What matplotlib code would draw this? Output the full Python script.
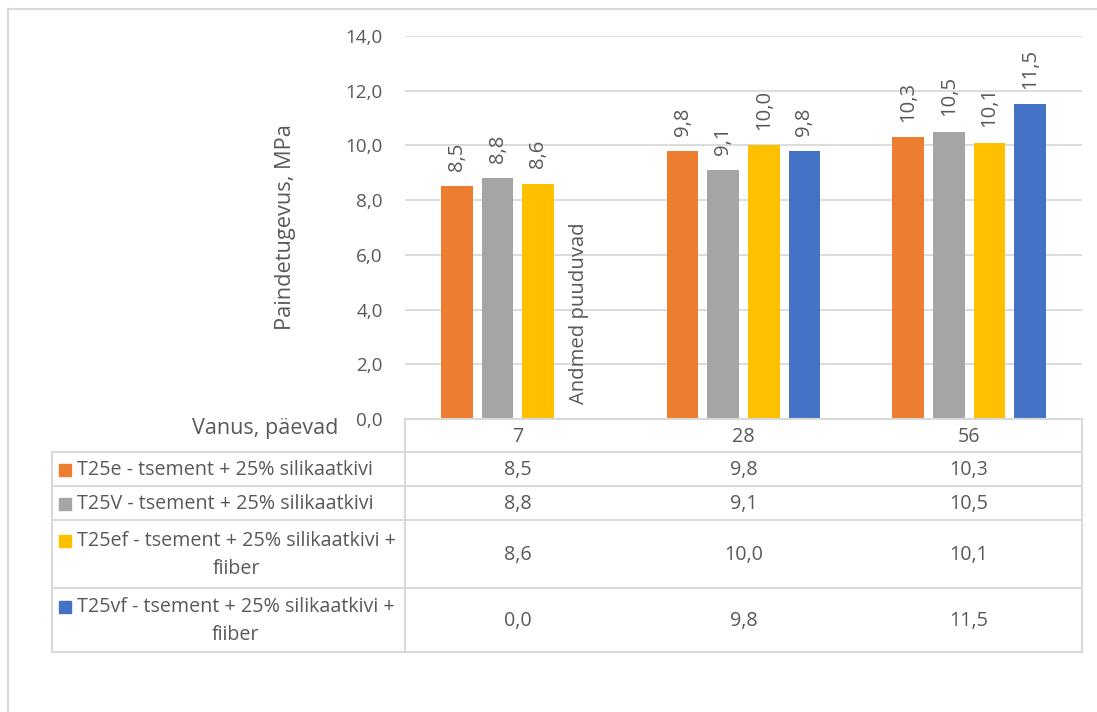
import textwrap
import numpy as np
import matplotlib
matplotlib.use("Agg")
import matplotlib.pyplot as plt
from matplotlib.lines import Line2D
from matplotlib.patches import Rectangle

# ---- data ----
ages = ["7", "28", "56"]
series_names = [
    "T25e - tsement + 25% silikaatkivi",
    "T25V - tsement + 25% silikaatkivi",
    "T25ef - tsement + 25% silikaatkivi + fiiber",
    "T25vf - tsement + 25% silikaatkivi + fiiber",
]
t25e = [8.5, 9.8, 10.3]
t25v = [8.8, 9.1, 10.5]
t25ef = [8.6, 10.0, 10.1]
t25vf = [0.0, 9.8, 11.5]
series_values = [t25e, t25v, t25ef, t25vf]
colors = ["#ED7D31", "#A5A5A5", "#FFC000", "#4472C4"]
missing_label = "Andmed puuduvad"
y_label = "Paindetugevus, MPa"
x_label = "Vanus, päevad"

TEXT = "#595959"
LINE = "#d9d9d9"
FONT = "Open Sans"
FS = 14.2
FS_TICK = 13.6

plt.rcParams["font.family"] = [FONT, "DejaVu Sans"]


def fmt(v):
    return f"{v:.1f}".replace(".", ",")


W, H = 1097, 712
fig = plt.figure(figsize=(W / 100, H / 100), dpi=100)


def fx(x):
    return x / W


def fy(y):
    return 1 - y / H


# chart frame
fig.add_artist(Line2D([fx(8), fx(8)], [fy(9), fy(712)], color=LINE, lw=1.5))
fig.add_artist(Line2D([fx(8), fx(1097)], [fy(9), fy(9)], color=LINE, lw=1.5))

# plot area
px_left, px_right, px_top, px_bottom = 405, 1082, 36, 419
ax = fig.add_axes([fx(px_left), fy(px_bottom),
                   (px_right - px_left) / W, (px_bottom - px_top) / H])
ax.set_xlim(-0.5, len(ages) - 0.5)
ax.set_ylim(0, 14)
yt = np.arange(0, 15, 2)
ax.set_yticks(yt)
ax.set_yticklabels([fmt(v) for v in yt], color=TEXT, fontsize=FS_TICK)
ax.tick_params(axis="y", length=0, pad=16)
ax.set_xticks([])
for s in ax.spines.values():
    s.set_visible(False)
ax.grid(axis="y", color=LINE, lw=1.3)
ax.set_axisbelow(True)

n = len(series_values)
step, width = 0.180, 0.1405
xs = np.arange(len(ages))
for i, (vals, col) in enumerate(zip(series_values, colors)):
    x = xs + (i - (n - 1) / 2) * step
    ax.bar(x, vals, width=width, color=col, zorder=2)
    for xi, v in zip(x, vals):
        text = missing_label if v == 0 else fmt(v)
        ax.annotate(text, (xi, v), xytext=(0, 11), textcoords="offset points",
                    rotation=90, ha="center", va="bottom", color=TEXT, fontsize=FS + 0.4)

# axis title
fig.text(fx(285), fy(227), y_label, rotation=90, ha="center", va="center",
         color=TEXT, fontsize=15.7)

# ---- data table ----
tab_left, col_split, tab_right = 52, px_left, px_right
rows_y = [419, 452, 486, 520, 588, 652]


def hline(y, x0, x1):
    fig.add_artist(Line2D([fx(x0), fx(x1)], [fy(y), fy(y)], color=LINE, lw=1.5))


def vline(x, y0, y1):
    fig.add_artist(Line2D([fx(x), fx(x)], [fy(y0), fy(y1)], color=LINE, lw=1.5))


hline(rows_y[0], col_split, tab_right)
for y in rows_y[1:]:
    hline(y, tab_left, tab_right)
vline(tab_left, rows_y[1], rows_y[-1])
vline(col_split, rows_y[0], rows_y[-1])
vline(tab_right, rows_y[0], rows_y[-1])

col_w = (tab_right - col_split) / len(ages)
col_centers = [col_split + col_w * (j + 0.5) for j in range(len(ages))]

# header row
hy = (rows_y[0] + rows_y[1]) / 2
for cx, a in zip(col_centers, ages):
    fig.text(fx(cx), fy(hy + 1), a, ha="center", va="center", color=TEXT, fontsize=FS)
fig.text(fx(338), fy(429), x_label, ha="right", va="center", color=TEXT, fontsize=15.5)

line_px = 28
for r, (name, vals, col) in enumerate(zip(series_names, series_values, colors)):
    y0, y1 = rows_y[r + 1], rows_y[r + 2]
    cy = (y0 + y1) / 2
    label = textwrap.fill(name, width=36)
    nl = label.count("\n") + 1
    fig.text(fx(77), fy(cy + 1), label, ha="left", va="center", multialignment="center",
             color=TEXT, fontsize=FS, linespacing=1.5)
    ky = cy + 1 - (nl - 1) / 2 * line_px
    fig.add_artist(Rectangle((fx(59), fy(ky + 6)), 12 / W, 12 / H,
                             color=col, transform=fig.transFigure))
    for cx, v in zip(col_centers, vals):
        fig.text(fx(cx), fy(cy + 1), fmt(v), ha="center", va="center", color=TEXT, fontsize=FS)

fig.savefig("out.png", dpi=100, facecolor="white")
